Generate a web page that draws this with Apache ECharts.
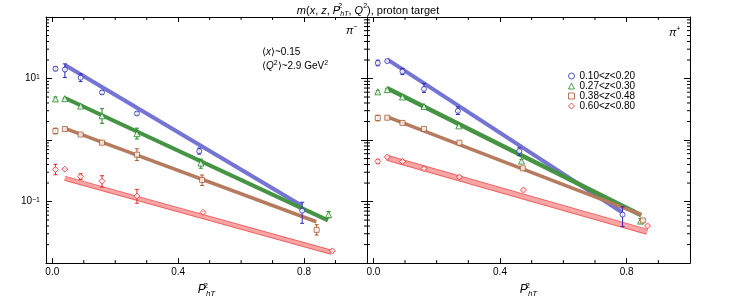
<!DOCTYPE html>
<html><head><meta charset="utf-8">
<script src="https://cdn.jsdelivr.net/npm/echarts@6/dist/echarts.min.js"></script>
<style>html,body{margin:0;padding:0;background:#fff}#c{width:736px;height:303px}</style>
</head><body><div id="c"></div>
<script>
const FONT = 'Liberation Sans, Arial, Helvetica, sans-serif';
const binNames = ['0.10<z<0.20', '0.27<z<0.30', '0.38<z<0.48', '0.60<z<0.80'];
const xTickValues = [0, 0.4, 0.8];
const xMinorTicks = [0.1, 0.2, 0.3, 0.5, 0.6, 0.7, 0.9];
const yMinorTicks = [0.02,0.03,0.04,0.05,0.06,0.07,0.08,0.09,0.2,0.3,0.4,0.5,0.6,0.7,0.8,0.9,2,3,4,5,6,7,8,9,20,30,40,50,60,70,80,90];

// ---- pi^- panel ----
const minusBlueX  = [0.010, 0.040, 0.090, 0.158, 0.269, 0.467, 0.794];
const minusBlueY  = [14.4, 14.0, 10.3, 5.95, 2.70, 0.66, 0.0711];
const minusBlueLo = [13.4, 10.4, 8.9, 5.53, 2.55, 0.59, 0.0443];
const minusBlueHi = [15.5, 17.3, 11.9, 6.40, 2.85, 0.74, 0.0975];
const minusBlueFitX = [0.040, 0.792];
const minusBlueFitY = [16.6, 0.0861];

const minusGreenX  = [0.010, 0.040, 0.090, 0.158, 0.269, 0.472, 0.878];
const minusGreenY  = [4.66, 4.71, 3.57, 2.48, 1.27, 0.423, 0.0614];
const minusGreenLo = [4.30, 4.55, 3.45, 1.87, 1.04, 0.348, 0.0544];
const minusGreenHi = [5.00, 4.88, 3.70, 3.24, 1.56, 0.489, 0.0693];
const minusGreenFitX = [0.040, 0.876];
const minusGreenFitY = [4.83, 0.0494];

const minusBrownX  = [0.010, 0.040, 0.090, 0.158, 0.269, 0.476, 0.840];
const minusBrownY  = [1.40, 1.51, 1.23, 0.906, 0.579, 0.225, 0.0347];
const minusBrownLo = [1.26, 1.46, 1.19, 0.87, 0.466, 0.183, 0.0286];
const minusBrownHi = [1.56, 1.56, 1.27, 0.94, 0.721, 0.270, 0.0421];
const minusBrownFitX = [0.040, 0.839];
const minusBrownFitY = [1.55, 0.0470];

const minusRedX  = [0.010, 0.040, 0.090, 0.158, 0.269, 0.479, 0.890];
const minusRedY  = [0.331, 0.336, 0.254, 0.214, 0.1225, 0.0668, 0.0158];
const minusRedLo = [0.273, 0.330, 0.228, 0.172, 0.094, 0.065, 0.0153];
const minusRedHi = [0.403, 0.342, 0.283, 0.263, 0.158, 0.069, 0.0163];
const minusRedFitX = [0.040, 0.887];
const minusRedFitY = [0.239, 0.0150];

// ---- pi^+ panel ----
const plusBlueX  = [0.014, 0.044, 0.092, 0.160, 0.267, 0.461, 0.787];
const plusBlueY  = [17.9, 19.2, 13.0, 6.78, 2.98, 0.661, 0.0614];
const plusBlueLo = [16.1, 18.5, 11.6, 5.94, 2.60, 0.558, 0.0393];
const plusBlueHi = [19.9, 19.9, 14.6, 8.34, 3.45, 0.748, 0.0822];
const plusBlueFitX = [0.044, 0.784];
const plusBlueFitY = [20.5, 0.0678];

const plusGreenX  = [0.014, 0.044, 0.092, 0.160, 0.270, 0.468, 0.844];
const plusGreenY  = [6.08, 6.62, 5.01, 3.52, 1.70, 0.454, 0.0481];
const plusGreenLo = [5.75, 6.40, 4.85, 3.40, 1.64, 0.425, 0.0440];
const plusGreenHi = [6.40, 6.85, 5.18, 3.64, 1.76, 0.485, 0.0530];
const plusGreenFitX = [0.044, 0.846];
const plusGreenFitY = [6.95, 0.0598];

const plusBrownX  = [0.014, 0.044, 0.092, 0.160, 0.272, 0.472, 0.851];
const plusBrownY  = [2.28, 2.31, 1.90, 1.52, 0.906, 0.347, 0.0494];
const plusBrownLo = [2.05, 2.22, 1.83, 1.46, 0.87, 0.335, 0.0470];
const plusBrownHi = [2.53, 2.40, 1.97, 1.58, 0.94, 0.360, 0.0520];
const plusBrownFitX = [0.044, 0.846];
const plusBrownFitY = [2.39, 0.0614];

const plusRedX  = [0.014, 0.044, 0.092, 0.160, 0.272, 0.474, 0.866];
const plusRedY  = [0.449, 0.531, 0.449, 0.343, 0.251, 0.154, 0.0402];
const plusRedLo = [0.415, 0.515, 0.435, 0.332, 0.243, 0.149, 0.0390];
const plusRedHi = [0.485, 0.548, 0.463, 0.354, 0.259, 0.159, 0.0414];
const plusRedFitX = [0.044, 0.865];
const plusRedFitY = [0.513, 0.0323];

const styles = [
  {mark: '#2a2ab8', band: '#7474d4', symbol: 'circle', size: 5},
  {mark: '#1f8a1f', band: '#449444', symbol: 'triangle', size: 6},
  {mark: '#a8582e', band: '#b67a5e', symbol: 'rect', size: 5},
  {mark: '#e8282a', band: '#ee6262', symbol: 'diamond', size: 6}
];

const panels = [
  [[minusBlueX, minusBlueY, minusBlueLo, minusBlueHi, minusBlueFitX, minusBlueFitY],
   [minusGreenX, minusGreenY, minusGreenLo, minusGreenHi, minusGreenFitX, minusGreenFitY],
   [minusBrownX, minusBrownY, minusBrownLo, minusBrownHi, minusBrownFitX, minusBrownFitY],
   [minusRedX, minusRedY, minusRedLo, minusRedHi, minusRedFitX, minusRedFitY]],
  [[plusBlueX, plusBlueY, plusBlueLo, plusBlueHi, plusBlueFitX, plusBlueFitY],
   [plusGreenX, plusGreenY, plusGreenLo, plusGreenHi, plusGreenFitX, plusGreenFitY],
   [plusBrownX, plusBrownY, plusBrownLo, plusBrownHi, plusBrownFitX, plusBrownFitY],
   [plusRedX, plusRedY, plusRedLo, plusRedHi, plusRedFitX, plusRedFitY]]
];
const bandWidths = [[4, 4, 3.5, 5], [4, 4.5, 3.5, 6]];

const XMIN = -0.02, XMAX = 1.0, YMIN = 0.01, YMAX = 100;

const grids = [
  {left: 46, top: 17, width: 321, height: 252},
  {left: 367, top: 17, width: 323, height: 252}
];
const xAxes = [], yAxes = [], series = [];
grids.forEach((g, gi) => {
  xAxes.push({
    gridIndex: gi, type: 'value', min: XMIN, max: XMAX, position: 'bottom',
    axisLine: {show: true, onZero: false, lineStyle: {color: '#000', width: 1}},
    axisTick: {show: true, inside: true, length: 5, customValues: xTickValues, lineStyle: {color: '#000'}},
    axisLabel: {show: true, customValues: xTickValues, formatter: v => v.toFixed(1), color: '#000', fontSize: 10, fontFamily: FONT, margin: 4},
    splitLine: {show: false},
    name: '{i|P}{s|2}{b|hT}', nameLocation: 'middle', nameGap: 13,
    nameTextStyle: {color: '#000', fontSize: 12, fontFamily: FONT, verticalAlign: 'top',
      rich: {i: {fontSize: 12, fontStyle: 'italic', fontFamily: FONT, lineHeight: 16},
             s: {fontSize: 8, fontFamily: FONT, verticalAlign: 'top', lineHeight: 8, width: 0.1},
             b: {fontSize: 8, fontStyle: 'italic', fontFamily: FONT, verticalAlign: 'bottom', lineHeight: 8}}}
  });
  xAxes.push({
    gridIndex: gi, type: 'value', min: XMIN, max: XMAX, position: 'top',
    axisLine: {show: true, onZero: false, lineStyle: {color: '#000', width: 1}},
    axisTick: {show: true, inside: true, length: 5, customValues: xTickValues, lineStyle: {color: '#000'}},
    axisLabel: {show: false}, splitLine: {show: false}
  });
  yAxes.push({
    gridIndex: gi, type: 'log', logBase: 10, min: YMIN, max: YMAX, position: 'left',
    axisLine: {show: true, onZero: false, lineStyle: {color: '#000', width: 1}},
    axisTick: {show: true, inside: true, length: 6, lineStyle: {color: '#000'}},
    axisLabel: {show: gi === 0, color: '#000', fontSize: 10, fontFamily: FONT, margin: 6,
      formatter: v => {
        const l = Math.log10(v);
        if (Math.abs(l - 1) < 1e-6) return '10{s|1}';
        if (Math.abs(l + 1) < 1e-6) return '10{s|−1}';
        return '';
      },
      rich: {s: {fontSize: 7, fontFamily: FONT, verticalAlign: 'top', lineHeight: 8}}},
    splitLine: {show: false}
  });
  yAxes.push({
    gridIndex: gi, type: 'log', logBase: 10, min: YMIN, max: YMAX, position: 'right',
    axisLine: {show: true, onZero: false, lineStyle: {color: '#000', width: 1}},
    axisTick: {show: true, inside: true, length: 6, lineStyle: {color: '#000'}},
    axisLabel: {show: false}, splitLine: {show: false}
  });

  series.push({
    type: 'custom', xAxisIndex: 2 * gi, yAxisIndex: 2 * gi, silent: true, clip: false, z: 1,
    data: xMinorTicks.map(v => [v, YMIN]), encode: {x: 0, y: 1},
    renderItem: (p, api) => {
      const b = api.coord([api.value(0), YMIN]);
      const t = api.coord([api.value(0), YMAX]);
      return {type: 'group', children: [
        {type: 'line', shape: {x1: b[0], y1: b[1], x2: b[0], y2: b[1] - 3}, style: {stroke: '#000', lineWidth: 1}},
        {type: 'line', shape: {x1: t[0], y1: t[1], x2: t[0], y2: t[1] + 3}, style: {stroke: '#000', lineWidth: 1}}
      ]};
    }
  });
  series.push({
    type: 'custom', xAxisIndex: 2 * gi, yAxisIndex: 2 * gi, silent: true, clip: false, z: 1,
    data: yMinorTicks.map(v => [XMIN, v]), encode: {x: 0, y: 1},
    renderItem: (p, api) => {
      const l = api.coord([XMIN, api.value(1)]);
      const r = api.coord([XMAX, api.value(1)]);
      return {type: 'group', children: [
        {type: 'line', shape: {x1: l[0], y1: l[1], x2: l[0] + 3, y2: l[1]}, style: {stroke: '#000', lineWidth: 1}},
        {type: 'line', shape: {x1: r[0], y1: r[1], x2: r[0] - 3, y2: r[1]}, style: {stroke: '#000', lineWidth: 1}}
      ]};
    }
  });

  panels[gi].forEach((bin, bi) => {
    const [X, Y, Lo, Hi, FX, FY] = bin;
    const st = styles[bi];
    const bw = bandWidths[gi][bi];
    series.push({
      type: 'line', name: 'fit' + gi + bi, xAxisIndex: 2 * gi, yAxisIndex: 2 * gi,
      data: FX.map((x, i) => [x, FY[i]]), symbol: 'none', silent: true, z: 2,
      lineStyle: {color: st.band, width: bw, cap: 'butt'}
    });
    if (bi === 3) {
      series.push({
        type: 'line', name: 'fitin' + gi + bi, xAxisIndex: 2 * gi, yAxisIndex: 2 * gi,
        data: FX.map((x, i) => [x, FY[i]]), symbol: 'none', silent: true, z: 2,
        lineStyle: {color: '#f8a5a5', width: bw - 2, cap: 'butt'}
      });
    }
    series.push({
      type: 'custom', name: 'err' + gi + bi, xAxisIndex: 2 * gi, yAxisIndex: 2 * gi, silent: true, z: 3,
      data: X.map((x, i) => [x, Lo[i], Hi[i]]), encode: {x: 0, y: [1, 2]},
      renderItem: (p, api) => {
        const x = api.value(0);
        const a = api.coord([x, api.value(1)]);
        const b = api.coord([x, api.value(2)]);
        const s = {stroke: st.mark, lineWidth: 1};
        return {type: 'group', children: [
          {type: 'line', shape: {x1: a[0], y1: a[1], x2: b[0], y2: b[1]}, style: s},
          {type: 'line', shape: {x1: a[0] - 2, y1: a[1], x2: a[0] + 2, y2: a[1]}, style: s},
          {type: 'line', shape: {x1: b[0] - 2, y1: b[1], x2: b[0] + 2, y2: b[1]}, style: s}
        ]};
      }
    });
    series.push({
      type: 'scatter', name: binNames[bi], xAxisIndex: 2 * gi, yAxisIndex: 2 * gi, z: 4,
      data: X.map((x, i) => [x, Y[i]]), symbol: st.symbol, symbolSize: st.size,
      itemStyle: {color: '#fff', borderColor: st.mark, borderWidth: 1}
    });
  });
});

const chart = echarts.init(document.getElementById('c'), null, {renderer: 'canvas'});
chart.setOption({
  animation: false,
  backgroundColor: '#fff',
  title: {
    text: '{i|m}({i|x}, {i|z}, {i|P}{s|2}{b|hT}, {i|Q}{s2|2}), proton target',
    left: 'center', top: -2,
    textStyle: {fontSize: 11, fontWeight: 'normal', color: '#000', fontFamily: FONT,
      rich: {i: {fontSize: 11, fontStyle: 'italic', fontFamily: FONT, lineHeight: 15},
             s: {fontSize: 7, fontFamily: FONT, verticalAlign: 'top', lineHeight: 7, width: 0.1},
             s2: {fontSize: 7, fontFamily: FONT, verticalAlign: 'top', lineHeight: 7},
             b: {fontSize: 7, fontStyle: 'italic', fontFamily: FONT, verticalAlign: 'bottom', lineHeight: 7}}}
  },
  legend: {
    data: binNames.map((n, i) => ({name: n, icon: styles[i].symbol,
      itemStyle: {color: '#fff', borderColor: styles[i].mark, borderWidth: 1}})),
    orient: 'vertical', left: 563, top: 66, itemGap: 0,
    itemWidth: 6, itemHeight: 6, selectedMode: false,
    formatter: n => n.replace('z', '{i|z}'),
    textStyle: {fontSize: 10, color: '#000', fontFamily: FONT, lineHeight: 10,
      rich: {i: {fontSize: 10, fontStyle: 'italic', fontFamily: FONT, lineHeight: 10}}}
  },
  grid: grids,
  xAxis: xAxes,
  yAxis: yAxes,
  series: series,
  graphic: [
    {type: 'text', x: 346, y: 31, silent: true, style: {text: '{i|π}{s|−}', fontSize: 11, fontFamily: FONT, fill: '#000', verticalAlign: 'middle',
      rich: {i: {fontSize: 11, fontStyle: 'italic', fontFamily: FONT, lineHeight: 14}, s: {fontSize: 7, fontFamily: FONT, verticalAlign: 'top', lineHeight: 7}}}},
    {type: 'text', x: 669, y: 33, silent: true, style: {text: '{i|π}{s|+}', fontSize: 11, fontFamily: FONT, fill: '#000', verticalAlign: 'middle',
      rich: {i: {fontSize: 11, fontStyle: 'italic', fontFamily: FONT, lineHeight: 14}, s: {fontSize: 7, fontFamily: FONT, verticalAlign: 'top', lineHeight: 7}}}},
    {type: 'text', x: 262, y: 52, silent: true, style: {text: '⟨{i|x}⟩~0.15', fontSize: 10, fontFamily: FONT, fill: '#000', verticalAlign: 'middle',
      rich: {i: {fontSize: 10, fontStyle: 'italic', fontFamily: FONT}}}},
    {type: 'text', x: 262, y: 66, silent: true, style: {text: '⟨{i|Q}{s|2}⟩~2.9 GeV{s|2}', fontSize: 10, fontFamily: FONT, fill: '#000', verticalAlign: 'middle',
      rich: {i: {fontSize: 10, fontStyle: 'italic', fontFamily: FONT, lineHeight: 13}, s: {fontSize: 7, fontFamily: FONT, verticalAlign: 'top', lineHeight: 7}}}}
  ]
});
</script>
</body></html>
